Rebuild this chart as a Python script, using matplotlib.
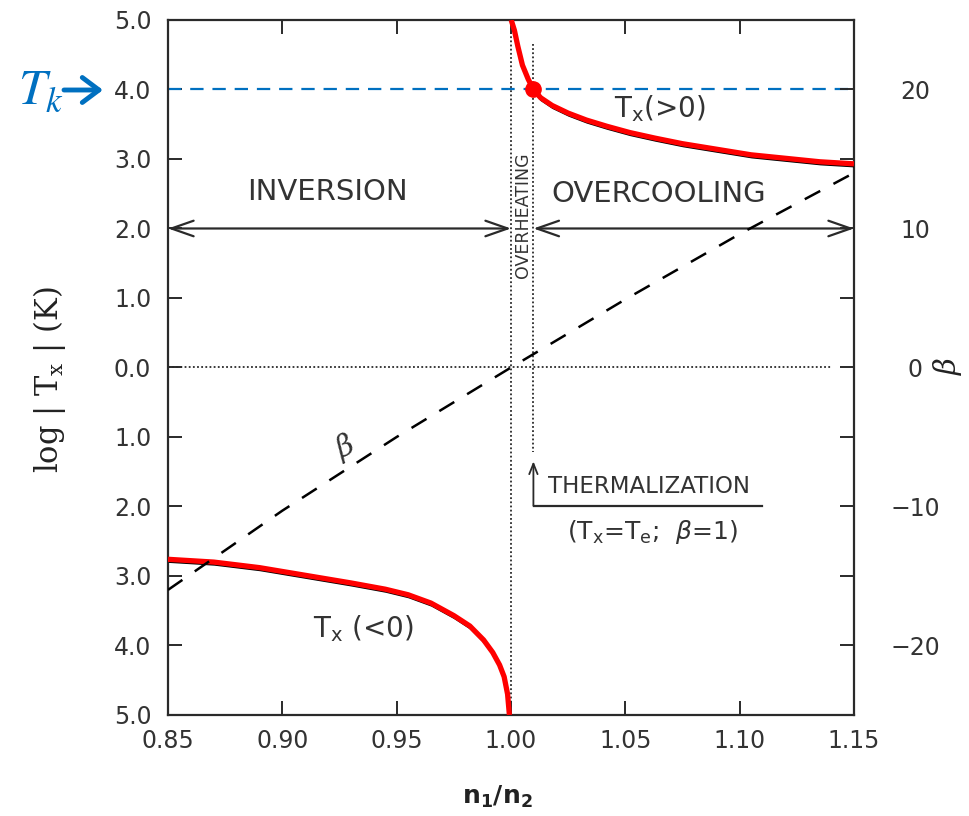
import matplotlib
matplotlib.use("Agg")
import matplotlib.pyplot as plt
import matplotlib.patheffects as pe

plt.rcParams["font.family"] = ["DejaVu Sans"]
plt.rcParams["mathtext.default"] = "regular"

# Tx > 0 branch (overheating / overcooling)
n_pos = [1.0001, 1.0015, 1.003, 1.005, 1.0075, 1.0098, 1.013, 1.018, 1.025, 1.033,
         1.042, 1.052, 1.063, 1.075, 1.09, 1.105, 1.12, 1.135, 1.15]
logT_pos = [5.0, 4.85, 4.62, 4.35, 4.15, 4.0, 3.88, 3.77, 3.66, 3.56,
            3.47, 3.38, 3.30, 3.22, 3.14, 3.06, 3.01, 2.96, 2.93]

# Tx < 0 branch (inversion), plotted downward as -log|Tx|
n_neg = [0.85, 0.87, 0.89, 0.91, 0.93, 0.945, 0.955, 0.965, 0.975, 0.982,
         0.988, 0.992, 0.995, 0.997, 0.9985, 0.9993]
logT_neg = [-2.76, -2.80, -2.88, -2.99, -3.10, -3.19, -3.27, -3.39, -3.57, -3.72,
            -3.92, -4.10, -4.28, -4.45, -4.70, -5.0]

# beta vs n1/n2 (right axis)
n_beta = [0.85, 0.90, 0.95, 1.00, 1.05, 1.10, 1.15]
beta = [-16.0, -10.3, -5.0, 0.0, 4.9, 9.6, 14.0]

x_ticks = [0.85, 0.90, 0.95, 1.00, 1.05, 1.10, 1.15]
x_labels = ["0.85", "0.90", "0.95", "1.00", "1.05", "1.10", "1.15"]
y_ticks = [5, 4, 3, 2, 1, 0, -1, -2, -3, -4, -5]
y_labels = ["5.0", "4.0", "3.0", "2.0", "1.0", "0.0", "1.0", "2.0", "3.0", "4.0", "5.0"]
b_ticks = [20, 15, 10, 5, 0, -5, -10, -15, -20]
b_labels = ["20", "", "10", "", "0", "", "\u221210", "", "\u221220"]

N_EDGE = 1.0       # n1/n2 = 1
N_THERM = 1.0098   # thermalization, beta = 1
T_K_LOG = 4.0      # kinetic temperature
REGION_Y = 2.0

ink = "#2a2a2a"
blue = "#0070C0"

fig = plt.figure(figsize=(9.69, 8.16), dpi=100)
ax = fig.add_axes([0.1734, 0.1238, 0.7079, 0.8517])
ax.set_xlim(0.85, 1.15)
ax.set_ylim(-5, 5)

for s in ax.spines.values():
    s.set_color(ink)
    s.set_linewidth(1.6)

ax.set_xticks(x_ticks)
ax.set_xticklabels(x_labels)
ax.set_yticks(y_ticks)
ax.set_yticklabels(y_labels)
ax.tick_params(axis="x", direction="in", length=10, width=1.4, color=ink,
               labelsize=17, labelcolor="#333333", pad=10, top=True)
ax.tick_params(axis="y", direction="in", length=10, width=1.4, color=ink,
               labelsize=17, labelcolor="#333333", pad=12)

ax2 = ax.twinx()
ax2.set_ylim(-25, 25)
ax2.set_yticks(b_ticks)
ax2.set_yticklabels(b_labels)
ax2.tick_params(axis="y", direction="in", length=10, width=1.4, color=ink,
                labelsize=17, labelcolor="#333333", pad=44)
for lab in ax2.get_yticklabels():
    lab.set_horizontalalignment("center")
for s in ax2.spines.values():
    s.set_visible(False)

# reference lines
dot = (0, (1, 1.3))
ax.axvline(N_EDGE, color=ink, lw=1.3, ls=dot)
ax.plot([N_THERM, N_THERM], [4.65, -1.22], color=ink, lw=1.3, ls=dot)
ax.plot([0.85, 1.1404], [0, 0], color=ink, lw=1.3, ls=dot)
ax.axhline(T_K_LOG, color=blue, lw=1.6, ls=(0, (6, 4)))

# beta line
ax2.plot(n_beta, beta, color="black", lw=1.8, ls=(0, (7, 6)))

# Tx curves: red over the thin original black trace
fx = [pe.Stroke(offset=(0.6, -1.8), linewidth=1.6, foreground="black"), pe.Normal()]
ax.plot(n_pos, logT_pos, color="#ff0000", lw=3.8, solid_capstyle="butt",
        solid_joinstyle="round", path_effects=fx, zorder=4)
ax.plot(n_neg, logT_neg, color="#ff0000", lw=3.8, solid_capstyle="butt",
        solid_joinstyle="round", path_effects=fx, zorder=4)
ax.plot([N_THERM], [T_K_LOG], "o", color="#ff0000", ms=11, zorder=5)

# region arrows
arr = dict(arrowstyle="<->,head_length=0.8,head_width=0.28", color=ink, lw=1.6,
           shrinkA=0, shrinkB=0, mutation_scale=20)
ax.annotate("", xy=(N_EDGE, REGION_Y), xytext=(0.85, REGION_Y), arrowprops=arr)
ax.annotate("", xy=(1.15, REGION_Y), xytext=(N_THERM, REGION_Y), arrowprops=arr)

txt = dict(color="#333333")
ax.text(0.9199, 2.52, "INVERSION", fontsize=21, ha="center", va="center", **txt)
ax.text(1.0645, 2.49, "OVERCOOLING", fontsize=21, ha="center", va="center", **txt)
ax.text(1.0053, 2.19, "OVERHEATING", fontsize=12.5, rotation=90,
        ha="center", va="center", **txt)
ax.text(1.0452, 3.60, "T$_x$(>0)", fontsize=20, ha="left", va="baseline", **txt)
ax.text(0.9136, -3.88, "T$_x$ (<0)", fontsize=20, ha="left", va="baseline", **txt)
ax.text(0.9276, -1.14, r"$\mathit{\beta}$", fontsize=21, rotation=25,
        ha="center", va="center", math_fontfamily="dejavuserif", **txt)

# thermalization note
ax.annotate("", xy=(N_THERM, -1.35), xytext=(N_THERM, -1.99),
            arrowprops=dict(arrowstyle="->,head_length=0.5,head_width=0.2",
                            color=ink, lw=1.3, shrinkA=0, shrinkB=0,
                            mutation_scale=15))
ax.plot([1.0101, 1.1096], [-1.99, -1.99], color=ink, lw=1.6)
ax.text(1.0162, -1.80, "THERMALIZATION", fontsize=16.5, ha="left",
        va="baseline", **txt)
ax.text(1.062, -2.37, r"(T$_x$=T$_e$;  $\mathit{\beta}$=1)", fontsize=18,
        ha="center", va="center", **txt)

# axis labels
fig.text(50 / 969, 1 - 380 / 816, "log | T$_x$ | (K)", rotation=90, ha="center",
         va="center", fontsize=22, family="DejaVu Serif", color="#222222",
         math_fontfamily="dejavuserif")
fig.text(497 / 969, 1 - 797 / 816, "n$_1$/n$_2$", ha="center", va="center",
         fontsize=18, fontweight="bold", color="#222222")
fig.text(947 / 969, 1 - 366 / 816, r"$\mathit{\beta}$", rotation=90, ha="center",
         va="center", fontsize=21, color="#222222", math_fontfamily="dejavuserif")

# T_k marker on the left
fig.text(18 / 969, 1 - 104 / 816, r"$\mathit{T}_{\mathit{k}}$", fontsize=36,
         color=blue, math_fontfamily="stix", ha="left", va="baseline")
ax.annotate("", xy=(103 / 969, 1 - 90 / 816), xycoords="figure fraction",
            xytext=(64 / 969, 1 - 90 / 816), textcoords="figure fraction",
            arrowprops=dict(arrowstyle="->,head_length=0.6,head_width=0.45",
                            color=blue, lw=3.5, shrinkA=0, shrinkB=0,
                            mutation_scale=20),
            annotation_clip=False)

fig.savefig("out.png", dpi=100)
